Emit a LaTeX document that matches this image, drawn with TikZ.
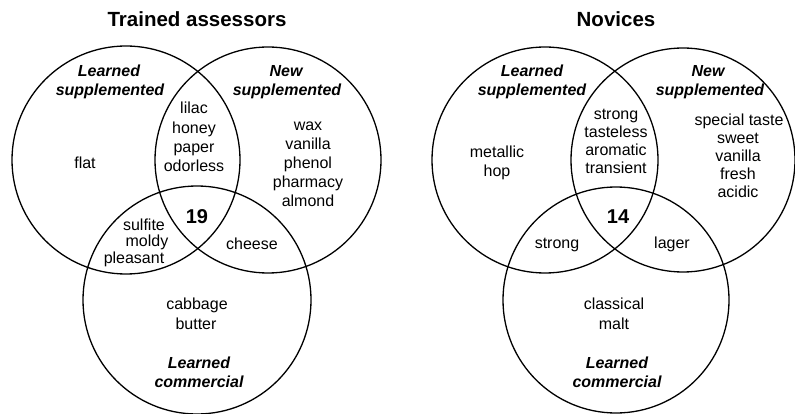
\documentclass[tikz,border=0pt]{standalone}
\usepackage{fontspec}
\setmainfont{Liberation Sans}
\begin{document}
\begin{tikzpicture}[x=1pt,y=-1pt,
  vennc/.style={draw, circle, line width=1.3pt, inner sep=0pt},
  word/.style={anchor=base, inner sep=0pt, font=\fontsize{16}{19}\selectfont},
  cat/.style={anchor=base, inner sep=0pt, font=\fontsize{16}{19}\selectfont\bfseries\itshape},
  num/.style={anchor=base, inner sep=0pt, font=\fontsize{20}{24}\selectfont\bfseries},
  ttl/.style={anchor=base, inner sep=0pt, font=\fontsize{20.5}{24}\selectfont\bfseries}]
\useasboundingbox (0,0) rectangle (795,414);

% ---------- Trained assessors ----------
\node[ttl] (t1) at (197,27) {Trained assessors};
\node[vennc, minimum size=228pt] (A1) at (126,160) {};
\node[vennc, minimum size=226pt] (B1) at (268,160) {};
\node[vennc, minimum size=228pt] (C1) at (197,300) {};

\node[cat] (a1l1) at (109,77) {Learned};
\node[cat] (a1l2) at (110,96) {supplemented};
\node[cat] (b1l1) at (286,77) {New};
\node[cat] (b1l2) at (287,96) {supplemented};
\node[cat] (c1l1) at (199,368) {Learned};
\node[cat] (c1l2) at (199,387) {commercial};

\node[word] (flat) at (85,169) {flat};
\node[word] (lilac) at (194,114) {lilac};
\node[word] (honey) at (194,133.3) {honey};
\node[word] (paper) at (194,152.6) {paper};
\node[word] (odorless) at (194,172) {odorless};
\node[word] (wax) at (308,131) {wax};
\node[word] (vanilla1) at (308,150) {vanilla};
\node[word] (phenol) at (308,169) {phenol};
\node[word] (pharmacy) at (308,188) {pharmacy};
\node[word] (almond) at (308,207) {almond};
\node[num] (n19) at (197,223) {19};
\node[word] (sulfite) at (144,231) {sulfite};
\node[word] (moldy) at (147,246.5) {moldy};
\node[word] (pleasant) at (134,263) {pleasant};
\node[word] (cheese) at (252,249) {cheese};
\node[word] (cabbage) at (197,309) {cabbage};
\node[word] (butter) at (196,329) {butter};

% ---------- Novices ----------
\node[ttl] (t2) at (616,27) {Novices};
\node[vennc, minimum size=226pt] (A2) at (545,160) {};
\node[vennc, minimum size=224pt] (B2) at (683,160) {};
\node[vennc, minimum size=226pt] (C2) at (616,300) {};

\node[cat] (a2l1) at (532,77) {Learned};
\node[cat] (a2l2) at (532,96) {supplemented};
\node[cat] (b2l1) at (708,77) {New};
\node[cat] (b2l2) at (710,96) {supplemented};
\node[cat] (c2l1) at (617,368) {Learned};
\node[cat] (c2l2) at (617,387) {commercial};

\node[word] (metallic) at (497,158) {metallic};
\node[word] (hop) at (497,177) {hop};
\node[word] (strongA) at (616,120) {strong};
\node[word] (tasteless) at (616,138) {tasteless};
\node[word] (aromatic) at (616,156) {aromatic};
\node[word] (transient) at (616,174) {transient};
\node[word] (special) at (739,126) {special taste};
\node[word] (sweet) at (738,144) {sweet};
\node[word] (vanilla2) at (738,162) {vanilla};
\node[word] (fresh) at (738,180) {fresh};
\node[word] (acidic) at (738,198) {acidic};
\node[num] (n14) at (618,223) {14};
\node[word] (strongB) at (557,248) {strong};
\node[word] (lager) at (672,248) {lager};
\node[word] (classical) at (614,309) {classical};
\node[word] (malt) at (614,329) {malt};
\end{tikzpicture}
\end{document}
